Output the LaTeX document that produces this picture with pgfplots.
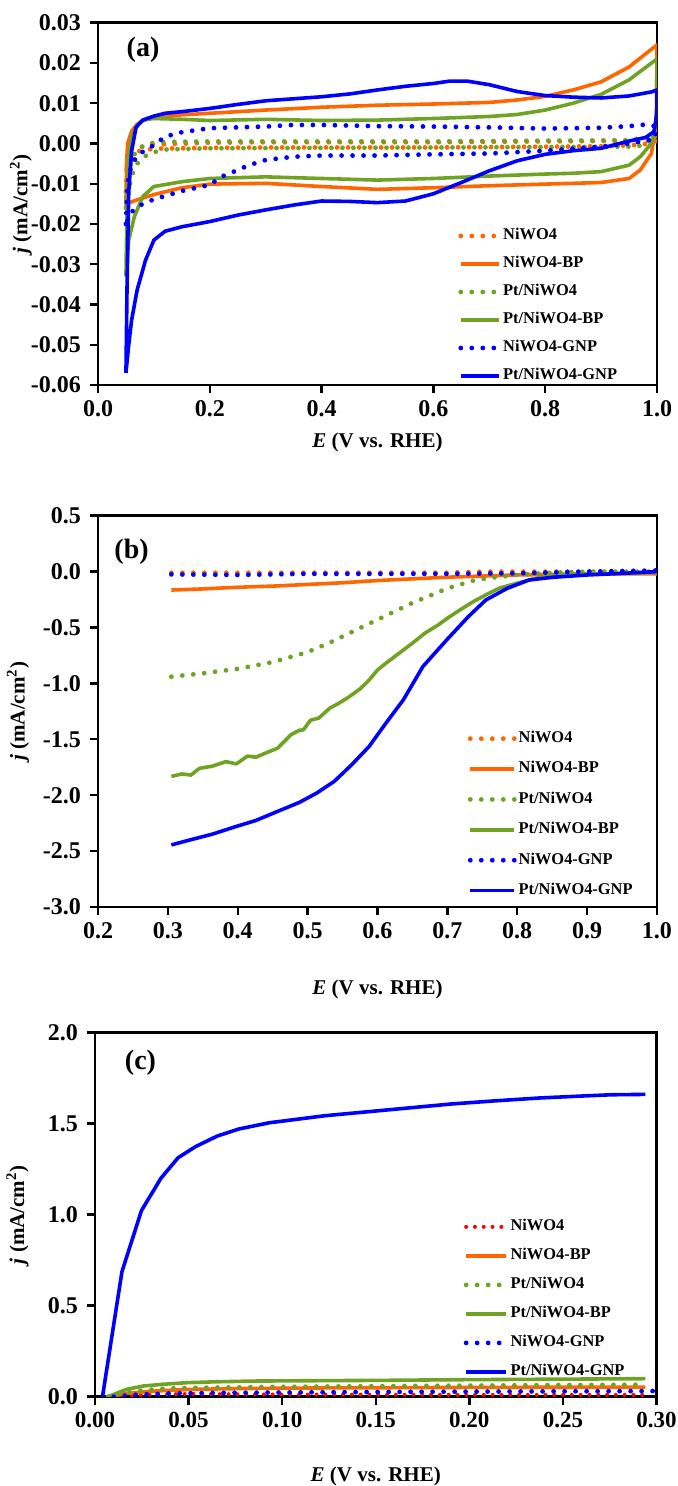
\documentclass[border=0pt]{standalone}
\usepackage{fontspec}
\setmainfont{Liberation Serif}
\usepackage{pgfplots}
\pgfplotsset{compat=1.18}
\definecolor{cor}{RGB}{255,102,0}
\definecolor{cgr}{RGB}{112,163,36}
\definecolor{cbl}{RGB}{0,0,255}
\definecolor{cre}{RGB}{255,0,0}
\pgfplotsset{
 panel/.style={scale only axis, axis line style={line width=1.4pt}, tick style={line width=1.2pt, black},
   tick align=outside, major tick length=4pt, xtick pos=bottom, ytick pos=left,
   scaled ticks=false,
   ticklabel style={font=\fontsize{12}{14}\selectfont\bfseries},
   yticklabel style={xshift=-1pt},
   label style={font=\fontsize{10.5}{12}\selectfont\bfseries},
   legend style={draw=none, fill=none, inner sep=0pt, font=\fontsize{8.2}{9}\selectfont\bfseries,
     nodes={inner sep=1pt, text height=5.4pt, text depth=1.5pt}, cells={anchor=west}},
   legend cell align=left},
 sol/.style={line width=1.8pt, line join=round},
 dot/.style={line width=2.4pt, line cap=round, dash pattern=on 0pt off 5.5pt},
}
\begin{document}
\begin{tikzpicture}
\useasboundingbox (0,0) rectangle (338.5pt,743pt);
% ---------------- (a)
\begin{axis}[panel, at={(49pt,550.5pt)}, anchor=south west, width=279.5pt, height=181.15pt,
  xmin=0, xmax=1, ymin=-0.06, ymax=0.03,
  xtick={0,0.2,0.4,0.6,0.8,1.0}, xticklabels={0.0,0.2,0.4,0.6,0.8,1.0},
  ytick={-0.06,-0.05,-0.04,-0.03,-0.02,-0.01,0,0.01,0.02,0.03},
  yticklabels={-0.06,-0.05,-0.04,-0.03,-0.02,-0.01,0.00,0.01,0.02,0.03},
  xlabel={\textit{E} (V vs. RHE)}, ylabel={\textit{j} (mA/cm\textsuperscript{2})},
  xlabel style={at={(axis description cs:0.5,-0.16)}, anchor=center},
  ylabel style={at={(axis description cs:-0.138,0.5)}, anchor=center},
  legend style={at={(axis description cs:0.644,0.437)}, anchor=north west, row sep=5.1pt},
  legend image code/.code={\draw[#1] (0pt,0pt) -- (19pt,0pt);}]
\addplot[dot, cor] coordinates {(0.05,-0.012)(0.052,-0.004)(0.06,-0.0012)(0.1,-0.0003)(0.2,0.0002)(0.3,0.0003)(0.4,0.0003)(0.5,0.0003)(0.6,0.0003)(0.7,0.0004)(0.8,0.0005)(0.9,0.0006)(1.0,0.0008)(0.99,0.0)(0.95,-0.0005)(0.9,-0.0007)(0.8,-0.0008)(0.7,-0.0009)(0.6,-0.001)(0.5,-0.001)(0.4,-0.001)(0.3,-0.001)(0.2,-0.0011)(0.1,-0.0013)(0.07,-0.002)(0.055,-0.006)(0.05,-0.012)};
\addlegendentry{NiWO4}
\addplot[sol, cor] coordinates {(0.05,-0.015)(0.051,-0.005)(0.053,0.0)(0.06,0.003)(0.07,0.0048)(0.085,0.006)(0.1,0.0066)(0.15,0.0071)(0.2,0.0075)(0.3,0.0083)(0.4,0.009)(0.5,0.0095)(0.6,0.0098)(0.7,0.0102)(0.75,0.0108)(0.8,0.0117)(0.85,0.0133)(0.9,0.0153)(0.95,0.019)(1.0,0.0245)(0.999,0.005)(0.99,-0.0025)(0.97,-0.0066)(0.95,-0.0087)(0.9,-0.0097)(0.8,-0.0101)(0.7,-0.0105)(0.6,-0.011)(0.5,-0.0114)(0.4,-0.0107)(0.3,-0.0099)(0.2,-0.0101)(0.15,-0.011)(0.1,-0.0127)(0.07,-0.014)(0.05,-0.015)};
\addlegendentry{NiWO4-BP}
\addplot[dot, cgr] coordinates {(0.05,-0.016)(0.053,-0.009)(0.06,-0.004)(0.07,-0.0015)(0.09,0.0)(0.12,0.0004)(0.2,0.0005)(0.4,0.0005)(0.6,0.0005)(0.8,0.0007)(0.95,0.0008)(1.0,0.002)(0.99,-0.0003)(0.95,-0.0008)(0.8,-0.0009)(0.6,-0.001)(0.4,-0.0011)(0.2,-0.0012)(0.12,-0.0015)(0.09,-0.0025)(0.07,-0.005)(0.06,-0.008)(0.05,-0.016)};
\addlegendentry{Pt/NiWO4}
\addplot[sol, cgr] coordinates {(0.05,-0.033)(0.052,-0.015)(0.055,-0.004)(0.06,0.0015)(0.07,0.0045)(0.08,0.0058)(0.1,0.0062)(0.15,0.006)(0.2,0.0057)(0.3,0.006)(0.4,0.0057)(0.5,0.0058)(0.6,0.0062)(0.7,0.0067)(0.75,0.0072)(0.8,0.0083)(0.85,0.01)(0.9,0.0122)(0.95,0.0158)(1.0,0.021)(0.999,0.006)(0.99,0.0)(0.97,-0.0033)(0.95,-0.0054)(0.9,-0.007)(0.85,-0.0074)(0.8,-0.0076)(0.7,-0.0081)(0.6,-0.0087)(0.5,-0.0091)(0.4,-0.0087)(0.3,-0.0083)(0.2,-0.0087)(0.15,-0.0095)(0.1,-0.0107)(0.08,-0.0132)(0.065,-0.0182)(0.055,-0.024)(0.05,-0.033)};
\addlegendentry{Pt/NiWO4-BP}
\addplot[dot, cbl] coordinates {(0.05,-0.02)(0.053,-0.01)(0.06,-0.005)(0.075,-0.0025)(0.1,-0.0004)(0.12,0.0017)(0.15,0.0028)(0.2,0.0038)(0.3,0.0042)(0.35,0.0046)(0.4,0.0046)(0.5,0.0043)(0.6,0.0042)(0.7,0.004)(0.8,0.0037)(0.9,0.0039)(0.95,0.0043)(0.98,0.0047)(1.0,0.0042)(0.995,0.001)(0.95,0.0)(0.9,-0.0008)(0.8,-0.0018)(0.7,-0.0025)(0.6,-0.0027)(0.5,-0.003)(0.4,-0.003)(0.35,-0.0033)(0.3,-0.0041)(0.27,-0.0054)(0.25,-0.0066)(0.22,-0.0083)(0.2,-0.0103)(0.15,-0.0118)(0.1,-0.0139)(0.08,-0.015)(0.06,-0.017)(0.05,-0.02)};
\addlegendentry{NiWO4-GNP}
\addplot[sol, cbl] coordinates {(0.05,-0.057)(0.052,-0.035)(0.055,-0.012)(0.06,-0.002)(0.068,0.004)(0.08,0.0058)(0.1,0.0068)(0.12,0.0075)(0.15,0.0079)(0.2,0.0087)(0.25,0.0097)(0.3,0.0106)(0.35,0.0111)(0.4,0.0116)(0.45,0.0123)(0.5,0.0133)(0.55,0.0142)(0.6,0.0149)(0.63,0.0155)(0.66,0.0155)(0.7,0.0146)(0.75,0.0129)(0.8,0.0119)(0.85,0.0115)(0.9,0.0113)(0.95,0.0118)(0.99,0.0128)(1.0,0.0133)(1.0,0.008)(0.995,0.003)(0.98,0.0015)(0.95,0.0006)(0.9,-0.0012)(0.85,-0.0018)(0.8,-0.0027)(0.75,-0.0043)(0.7,-0.0068)(0.65,-0.0097)(0.6,-0.0125)(0.55,-0.0143)(0.5,-0.0147)(0.45,-0.0144)(0.4,-0.0143)(0.35,-0.0153)(0.3,-0.0165)(0.25,-0.0178)(0.2,-0.0194)(0.15,-0.0207)(0.12,-0.0218)(0.1,-0.024)(0.085,-0.029)(0.07,-0.0364)(0.06,-0.044)(0.055,-0.05)(0.05,-0.057)};
\addlegendentry{Pt/NiWO4-GNP}
\node[font=\fontsize{14}{16}\selectfont\bfseries] at (axis description cs:0.0805,0.925) {(a)};
\end{axis}
% ---------------- (b)
\begin{axis}[panel, at={(49pt,289.5pt)}, anchor=south west, width=279.5pt, height=195.65pt,
  xmin=0.2, xmax=1, ymin=-3, ymax=0.5,
  xtick={0.2,0.3,0.4,0.5,0.6,0.7,0.8,0.9,1.0}, xticklabels={0.2,0.3,0.4,0.5,0.6,0.7,0.8,0.9,1.0},
  ytick={-3,-2.5,-2,-1.5,-1,-0.5,0,0.5},
  yticklabels={-3.0,-2.5,-2.0,-1.5,-1.0,-0.5,0.0,0.5},
  xlabel={\textit{E} (V vs. RHE)}, ylabel={\textit{j} (mA/cm\textsuperscript{2})},
  xlabel style={at={(axis description cs:0.5,-0.212)}, anchor=center},
  ylabel style={at={(axis description cs:-0.143,0.5)}, anchor=center},
  legend style={at={(axis description cs:0.661,0.454)}, anchor=north west, row sep=6.3pt},
  legend image code/.code={\draw[#1] (0pt,0pt) -- (22pt,0pt);}]
\addplot[dot, cor] coordinates {(0.305,-0.01)(0.4,-0.01)(0.5,-0.01)(0.6,-0.01)(0.7,-0.01)(0.75,0.0)(0.8,0.0)(0.9,0.0)(1.0,0.0)};
\addlegendentry{NiWO4}
\addplot[sol, cor] coordinates {(0.305,-0.165)(0.35,-0.155)(0.4,-0.14)(0.45,-0.13)(0.5,-0.115)(0.55,-0.1)(0.6,-0.08)(0.65,-0.065)(0.7,-0.05)(0.75,-0.04)(0.8,-0.03)(0.9,-0.02)(1.0,-0.02)};
\addlegendentry{NiWO4-BP}
\addplot[dot, cgr] coordinates {(0.305,-0.94)(0.35,-0.91)(0.4,-0.87)(0.45,-0.81)(0.5,-0.72)(0.53,-0.64)(0.56,-0.55)(0.6,-0.43)(0.65,-0.28)(0.7,-0.15)(0.74,-0.075)(0.77,-0.05)(0.8,-0.03)(0.85,-0.01)(0.9,0.0)(1.0,0.0)};
\addlegendentry{Pt/NiWO4}
\addplot[sol, cgr] coordinates {(0.305,-1.832)(0.32,-1.81)(0.333,-1.82)(0.345,-1.76)(0.364,-1.74)(0.383,-1.70)(0.398,-1.72)(0.414,-1.65)(0.426,-1.66)(0.445,-1.61)(0.457,-1.58)(0.476,-1.46)(0.488,-1.42)(0.494,-1.415)(0.504,-1.33)(0.516,-1.31)(0.532,-1.22)(0.544,-1.18)(0.557,-1.13)(0.575,-1.05)(0.588,-0.97)(0.6,-0.88)(0.612,-0.82)(0.631,-0.73)(0.65,-0.64)(0.668,-0.55)(0.687,-0.477)(0.7,-0.417)(0.718,-0.343)(0.737,-0.269)(0.755,-0.209)(0.774,-0.149)(0.799,-0.105)(0.83,-0.054)(0.861,-0.03)(0.9,-0.021)(0.954,-0.015)(1.0,-0.009)};
\addlegendentry{Pt/NiWO4-BP}
\addplot[dot, cbl] coordinates {(0.305,-0.025)(0.4,-0.03)(0.5,-0.02)(0.7,-0.02)(0.8,-0.015)(0.9,0.0)(1.0,0.01)};
\addlegendentry{NiWO4-GNP}
\addplot[sol, cbl] coordinates {(0.305,-2.445)(0.333,-2.398)(0.364,-2.348)(0.395,-2.285)(0.426,-2.226)(0.457,-2.145)(0.488,-2.065)(0.513,-1.981)(0.538,-1.877)(0.563,-1.728)(0.588,-1.564)(0.612,-1.356)(0.637,-1.147)(0.665,-0.849)(0.699,-0.611)(0.73,-0.403)(0.755,-0.254)(0.786,-0.149)(0.817,-0.075)(0.851,-0.051)(0.901,-0.03)(0.954,-0.015)(1.0,0.0)};
\addlegendentry{Pt/NiWO4-GNP}
\node[font=\fontsize{14}{16}\selectfont\bfseries] at (axis description cs:0.06,0.908) {(b)};
\end{axis}
% ---------------- (c)
\begin{axis}[panel, at={(47.5pt,44.65pt)}, anchor=south west, width=280.75pt, height=182pt,
  xmin=0, xmax=0.3, ymin=0, ymax=2,
  xtick={0,0.05,0.1,0.15,0.2,0.25,0.3}, xticklabels={0.00,0.05,0.10,0.15,0.20,0.25,0.30},
  xticklabel style={font=\fontsize{11.5}{14}\selectfont\bfseries},
  ytick={0,0.5,1,1.5,2}, yticklabels={0.0,0.5,1.0,1.5,2.0},
  xlabel={\textit{E} (V vs. RHE)}, ylabel={\textit{j} (mA/cm\textsuperscript{2})},
  xlabel style={at={(axis description cs:0.5,-0.22)}, anchor=center},
  ylabel style={at={(axis description cs:-0.138,0.5)}, anchor=center},
  legend style={at={(axis description cs:0.656,0.492)}, anchor=north west, row sep=5.6pt},
  legend image code/.code={\draw[#1] (0pt,0pt) -- (20pt,0pt);}]
\addplot[cre, line width=2pt, line cap=round, dash pattern=on 0pt off 4.4pt] coordinates {(0.015,0.005)(0.03,0.012)(0.05,0.015)(0.1,0.012)(0.2,0.01)(0.294,0.01)};
\addlegendentry{NiWO4}
\addplot[sol, cor] coordinates {(0.007,0.0)(0.0167,0.018)(0.03,0.03)(0.05,0.04)(0.08,0.045)(0.12,0.048)(0.2,0.051)(0.294,0.053)};
\addlegendentry{NiWO4-BP}
\addplot[dot, cgr] coordinates {(0.007,0.0)(0.0167,0.022)(0.026,0.036)(0.04,0.046)(0.06,0.05)(0.1,0.054)(0.15,0.058)(0.2,0.061)(0.25,0.064)(0.294,0.066)};
\addlegendentry{Pt/NiWO4}
\addplot[sol, cgr] coordinates {(0.007,0.0)(0.0167,0.04)(0.026,0.059)(0.036,0.068)(0.049,0.077)(0.065,0.082)(0.086,0.086)(0.12,0.088)(0.156,0.09)(0.19,0.093)(0.225,0.095)(0.26,0.097)(0.294,0.099)};
\addlegendentry{Pt/NiWO4-BP}
\addplot[dot, cbl] coordinates {(0.01,0.0)(0.02,0.01)(0.04,0.018)(0.08,0.022)(0.15,0.026)(0.2,0.028)(0.3,0.031)};
\addlegendentry{NiWO4-GNP}
\addplot[sol, cbl] coordinates {(0.004,0.0)(0.0144,0.687)(0.0248,1.022)(0.0352,1.2)(0.0444,1.313)(0.0537,1.374)(0.0653,1.432)(0.0769,1.471)(0.093,1.505)(0.1046,1.52)(0.123,1.544)(0.144,1.564)(0.167,1.586)(0.19,1.608)(0.213,1.625)(0.237,1.641)(0.26,1.652)(0.276,1.659)(0.294,1.661)};
\addlegendentry{Pt/NiWO4-GNP}
\node[font=\fontsize{14}{16}\selectfont\bfseries] at (axis description cs:0.081,0.917) {(c)};
\end{axis}
\end{tikzpicture}
\end{document}
